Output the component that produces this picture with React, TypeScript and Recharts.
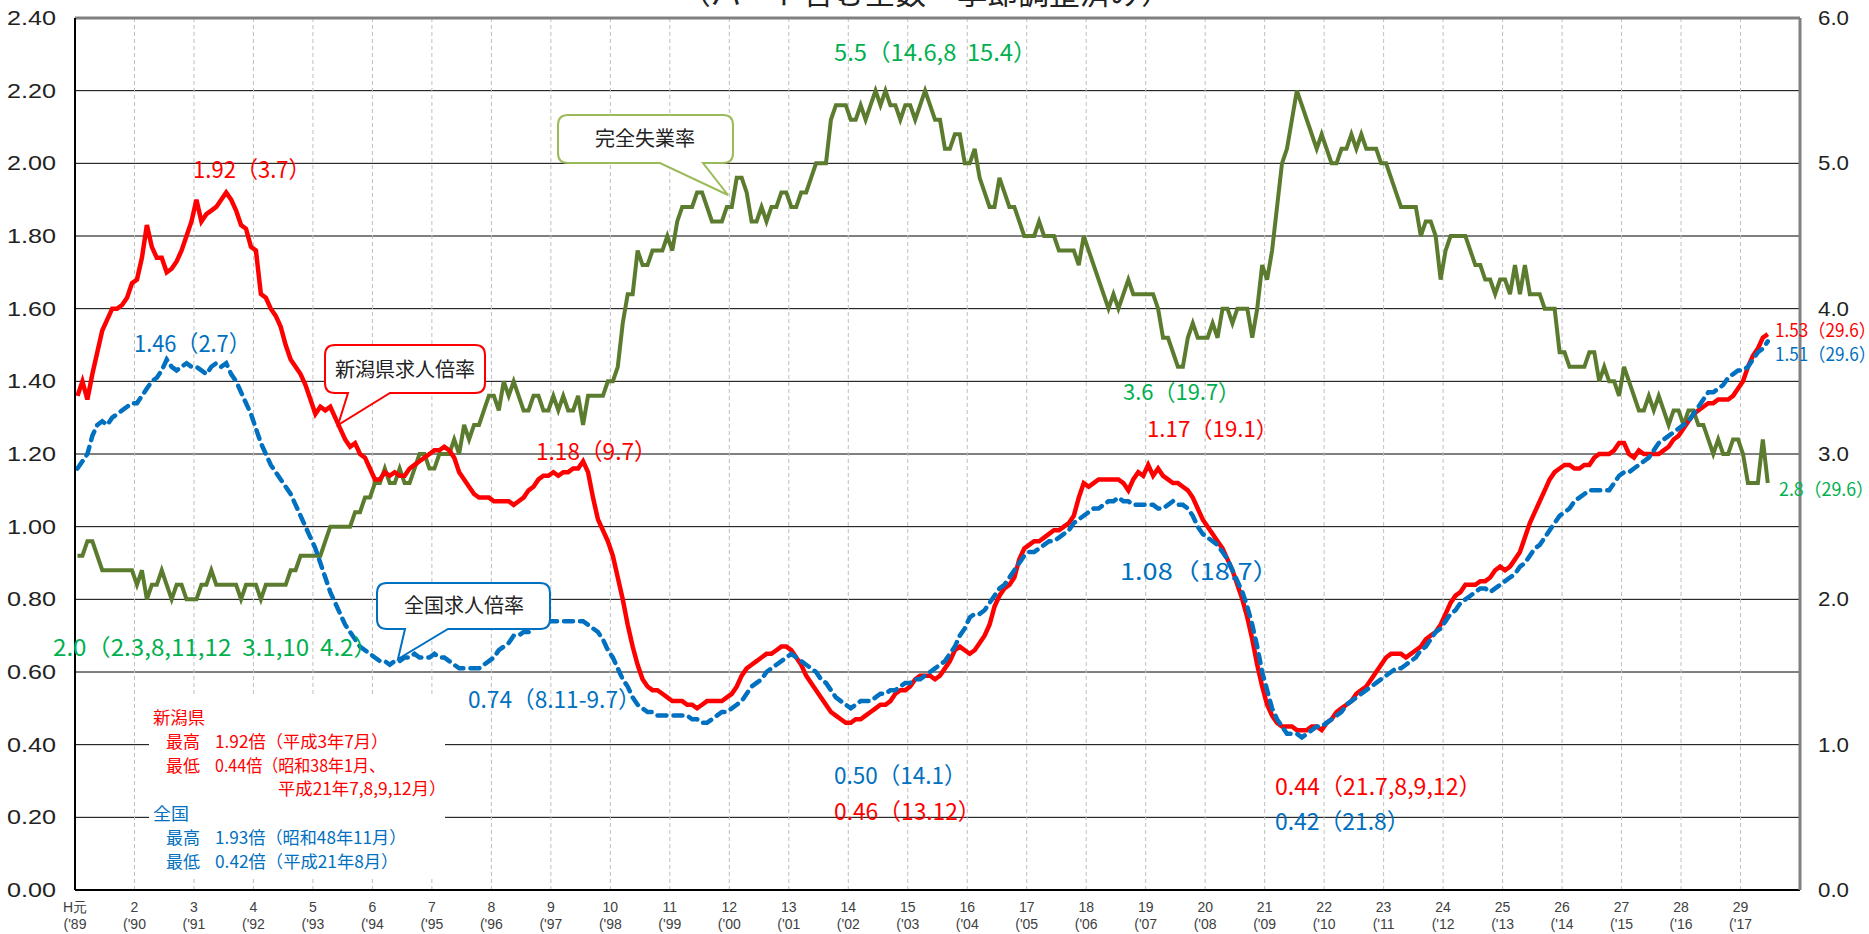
import React from 'react';
import { ComposedChart, Line, XAxis, YAxis, CartesianGrid, ReferenceLine } from 'recharts';

// ---- categories (Jan 1989 .. Dec 2017, monthly) ----
const TOTAL_MONTHS = 348;
const yearLabels = ['H元','2','3','4','5','6','7','8','9','10','11','12','13','14','15','16','17','18','19','20','21','22','23','24','25','26','27','28','29'];
const yearShort = ["('89","('90","('91","('92","('93","('94","('95","('96","('97","('98","('99","('00","('01","('02","('03","('04","('05","('06","('07","('08","('09","('10","('11","('12","('13","('14","('15","('16","('17"];

// ---- 新潟県 有効求人倍率 (monthly, Jan 1989 – Jun 2017) ----
const niigata: number[] = [
  1.36,1.40,1.35,1.42,1.48,1.54,1.57,1.60,1.60,1.61,1.63,1.67,
  1.68,1.74,1.83,1.77,1.74,1.74,1.70,1.71,1.73,1.76,1.80,1.84,
  1.90,1.84,1.86,1.87,1.88,1.90,1.92,1.90,1.87,1.83,1.82,1.77,
  1.76,1.64,1.63,1.60,1.58,1.55,1.50,1.46,1.44,1.42,1.39,1.35,
  1.31,1.33,1.32,1.33,1.30,1.27,1.24,1.22,1.23,1.20,1.19,1.16,
  1.13,1.13,1.15,1.14,1.15,1.14,1.14,1.16,1.17,1.18,1.19,1.20,
  1.21,1.21,1.22,1.21,1.19,1.15,1.13,1.11,1.09,1.08,1.08,1.08,
  1.07,1.07,1.07,1.07,1.06,1.07,1.08,1.10,1.11,1.13,1.14,1.14,
  1.15,1.14,1.15,1.15,1.16,1.16,1.18,1.15,1.08,1.02,0.99,0.96,
  0.92,0.86,0.80,0.73,0.67,0.62,0.58,0.56,0.55,0.55,0.54,0.53,
  0.52,0.52,0.52,0.51,0.51,0.50,0.51,0.52,0.52,0.52,0.52,0.53,
  0.54,0.56,0.59,0.61,0.62,0.63,0.64,0.65,0.65,0.66,0.67,0.67,
  0.66,0.64,0.62,0.59,0.57,0.55,0.53,0.51,0.49,0.48,0.47,0.46,
  0.46,0.47,0.47,0.48,0.49,0.50,0.51,0.51,0.52,0.54,0.55,0.55,
  0.56,0.58,0.59,0.59,0.59,0.58,0.59,0.61,0.63,0.66,0.67,0.66,
  0.65,0.66,0.68,0.70,0.73,0.78,0.81,0.83,0.84,0.86,0.91,0.94,
  0.95,0.96,0.96,0.97,0.98,0.99,0.99,1.00,1.01,1.03,1.08,1.12,
  1.11,1.12,1.13,1.13,1.13,1.13,1.13,1.12,1.10,1.13,1.15,1.14,
  1.17,1.14,1.16,1.14,1.13,1.12,1.12,1.11,1.10,1.08,1.05,1.02,
  1.00,0.98,0.96,0.94,0.91,0.88,0.84,0.80,0.75,0.69,0.62,0.56,
  0.51,0.48,0.46,0.45,0.45,0.45,0.44,0.44,0.44,0.45,0.45,0.44,
  0.46,0.47,0.49,0.50,0.51,0.52,0.54,0.55,0.56,0.58,0.60,0.62,
  0.64,0.65,0.65,0.65,0.64,0.65,0.66,0.67,0.69,0.70,0.71,0.73,
  0.76,0.79,0.81,0.82,0.84,0.84,0.84,0.85,0.85,0.86,0.88,0.89,
  0.88,0.89,0.91,0.93,0.97,1.01,1.04,1.07,1.10,1.13,1.15,1.16,
  1.17,1.17,1.16,1.16,1.17,1.17,1.19,1.20,1.20,1.20,1.21,1.23,
  1.23,1.20,1.19,1.21,1.20,1.20,1.20,1.20,1.21,1.22,1.24,1.25,
  1.27,1.29,1.31,1.32,1.33,1.34,1.34,1.35,1.35,1.35,1.36,1.38,
  1.40,1.44,1.47,1.49,1.52,1.53,
];

// ---- 全国 有効求人倍率 ----
const national: number[] = [
  1.16,1.18,1.20,1.25,1.28,1.29,1.28,1.30,1.31,1.32,1.33,1.34,
  1.34,1.36,1.38,1.40,1.41,1.43,1.46,1.44,1.43,1.44,1.45,1.44,
  1.44,1.43,1.42,1.44,1.45,1.44,1.45,1.42,1.40,1.37,1.34,1.31,
  1.27,1.23,1.20,1.17,1.15,1.13,1.11,1.09,1.06,1.03,1.00,0.97,
  0.94,0.90,0.86,0.82,0.79,0.76,0.73,0.71,0.69,0.67,0.66,0.65,
  0.64,0.63,0.63,0.62,0.63,0.63,0.64,0.64,0.65,0.64,0.64,0.64,
  0.65,0.64,0.64,0.63,0.62,0.61,0.61,0.61,0.61,0.61,0.62,0.63,
  0.64,0.66,0.67,0.68,0.70,0.70,0.71,0.71,0.72,0.73,0.74,0.74,
  0.74,0.74,0.74,0.74,0.74,0.74,0.74,0.73,0.72,0.71,0.69,0.66,
  0.64,0.61,0.58,0.56,0.53,0.51,0.50,0.49,0.49,0.48,0.48,0.48,
  0.48,0.48,0.48,0.48,0.47,0.47,0.46,0.46,0.47,0.48,0.49,0.49,
  0.50,0.51,0.52,0.54,0.56,0.57,0.58,0.60,0.61,0.62,0.63,0.64,
  0.65,0.64,0.63,0.62,0.61,0.60,0.58,0.57,0.55,0.53,0.52,0.51,
  0.50,0.51,0.52,0.52,0.52,0.53,0.54,0.54,0.55,0.55,0.56,0.57,
  0.57,0.58,0.58,0.59,0.60,0.61,0.62,0.63,0.65,0.67,0.70,0.72,
  0.75,0.76,0.76,0.77,0.79,0.81,0.83,0.84,0.86,0.88,0.90,0.92,
  0.93,0.93,0.94,0.95,0.96,0.96,0.97,0.98,0.99,1.01,1.02,1.03,
  1.04,1.05,1.05,1.06,1.07,1.07,1.08,1.07,1.07,1.06,1.06,1.06,
  1.06,1.06,1.05,1.05,1.06,1.07,1.06,1.06,1.05,1.03,1.00,0.98,
  0.97,0.96,0.95,0.93,0.91,0.88,0.85,0.82,0.78,0.73,0.67,0.60,
  0.55,0.50,0.47,0.45,0.43,0.43,0.43,0.42,0.43,0.44,0.45,0.45,
  0.46,0.47,0.48,0.49,0.51,0.52,0.53,0.54,0.55,0.56,0.57,0.58,
  0.59,0.60,0.61,0.61,0.62,0.63,0.64,0.66,0.67,0.69,0.71,0.72,
  0.74,0.76,0.77,0.79,0.80,0.81,0.82,0.83,0.83,0.82,0.83,0.84,
  0.85,0.86,0.87,0.89,0.90,0.92,0.94,0.95,0.97,0.99,1.01,1.03,
  1.04,1.05,1.07,1.08,1.09,1.10,1.10,1.10,1.10,1.10,1.12,1.14,
  1.15,1.15,1.16,1.17,1.18,1.19,1.21,1.23,1.24,1.25,1.26,1.27,
  1.28,1.29,1.31,1.33,1.35,1.37,1.37,1.38,1.39,1.41,1.42,1.43,
  1.43,1.44,1.46,1.48,1.49,1.51,
];

// ---- 完全失業率 (%) ----
const unemployment: number[] = [
  2.3,2.3,2.4,2.4,2.3,2.2,2.2,2.2,2.2,2.2,2.2,2.2,
  2.1,2.2,2.0,2.1,2.1,2.2,2.1,2.0,2.1,2.1,2.0,2.0,
  2.0,2.1,2.1,2.2,2.1,2.1,2.1,2.1,2.1,2.0,2.1,2.1,
  2.1,2.0,2.1,2.1,2.1,2.1,2.1,2.2,2.2,2.3,2.3,2.3,
  2.3,2.3,2.4,2.5,2.5,2.5,2.5,2.5,2.6,2.6,2.7,2.7,
  2.8,2.8,2.9,2.8,2.8,2.9,2.8,2.8,2.9,3.0,3.0,2.9,
  2.9,3.0,3.0,3.0,3.1,3.0,3.2,3.1,3.2,3.2,3.3,3.4,
  3.4,3.3,3.5,3.4,3.5,3.4,3.3,3.3,3.4,3.4,3.3,3.3,
  3.4,3.3,3.4,3.3,3.3,3.4,3.2,3.4,3.4,3.4,3.4,3.5,
  3.5,3.6,3.9,4.1,4.1,4.4,4.3,4.3,4.4,4.4,4.4,4.5,
  4.4,4.6,4.7,4.7,4.7,4.8,4.8,4.7,4.6,4.6,4.6,4.7,
  4.7,4.9,4.9,4.8,4.6,4.6,4.7,4.6,4.7,4.7,4.8,4.8,
  4.7,4.7,4.8,4.8,4.9,5.0,5.0,5.0,5.3,5.4,5.4,5.4,
  5.3,5.3,5.4,5.3,5.4,5.5,5.4,5.5,5.4,5.4,5.3,5.4,
  5.4,5.3,5.4,5.5,5.4,5.3,5.3,5.1,5.1,5.2,5.2,5.0,
  5.0,5.1,4.9,4.8,4.7,4.7,4.9,4.8,4.7,4.7,4.6,4.5,
  4.5,4.5,4.6,4.5,4.5,4.5,4.4,4.4,4.4,4.4,4.3,4.5,
  4.4,4.3,4.2,4.1,4.0,4.1,4.0,4.1,4.2,4.1,4.1,4.1,
  4.1,4.1,4.0,3.8,3.8,3.7,3.6,3.6,3.8,3.9,3.8,3.8,
  3.8,3.9,3.8,4.0,4.0,3.9,4.0,4.0,4.0,3.8,4.0,4.3,
  4.2,4.4,4.7,5.0,5.1,5.3,5.5,5.4,5.3,5.2,5.1,5.2,
  5.1,5.0,5.0,5.1,5.1,5.2,5.1,5.2,5.1,5.1,5.1,5.0,
  5.0,4.9,4.8,4.7,4.7,4.7,4.7,4.5,4.6,4.6,4.5,4.2,
  4.4,4.5,4.5,4.5,4.5,4.4,4.3,4.3,4.2,4.2,4.1,4.2,
  4.2,4.1,4.3,4.1,4.3,4.1,4.1,4.1,4.0,4.0,4.0,3.7,
  3.7,3.6,3.6,3.6,3.6,3.7,3.7,3.5,3.6,3.5,3.5,3.4,
  3.6,3.5,3.4,3.3,3.3,3.4,3.3,3.4,3.3,3.2,3.3,3.3,
  3.2,3.3,3.3,3.2,3.2,3.1,3.0,3.1,3.0,3.0,3.1,3.1,
  3.0,2.8,2.8,2.8,3.1,2.8,
];

const leftTicks = [0, 0.2, 0.4, 0.6, 0.8, 1.0, 1.2, 1.4, 1.6, 1.8, 2.0, 2.2, 2.4];
const rightTicks = [0, 1, 2, 3, 4, 5, 6];
const yearTicks = yearLabels.map((_, k) => k * 12);

const data = Array.from({ length: TOTAL_MONTHS }, (_, i) => ({
  m: i,
  niigata: i < niigata.length ? niigata[i] : null,
  national: i < national.length ? national[i] : null,
  unemployment: i < unemployment.length ? unemployment[i] : null,
}));

const W = 1869;
const H = 934;
const PLOT_LEFT = 75;
const PLOT_RIGHT = 1800;
const PLOT_TOP = 18;
const PLOT_BOTTOM = 890;
const BAND = (PLOT_RIGHT - PLOT_LEFT) / TOTAL_MONTHS;

const RED = '#FF0000';
const BLUE = '#0070C0';
const OLIVE = '#5B7B2E';
const GREEN_TXT = '#00B050';
const JP = '"Noto Sans CJK JP", "Noto Sans", sans-serif';
const AXISFONT = '"Liberation Sans", "DejaVu Sans", sans-serif';

const XTick = (props: any) => {
  const { x, y, payload } = props;
  const k = Math.round(payload.value / 12);
  const cx = x - BAND / 2;
  return (
    <g>
      <text x={cx} y={y + 14} textAnchor="middle" fontSize={14} fontFamily={AXISFONT} fill="#404040">
        {yearLabels[k]}
      </text>
      <text x={cx} y={y + 31} textAnchor="middle" fontSize={14} fontFamily={AXISFONT} fill="#404040">
        {yearShort[k]}
      </text>
      <text x={cx} y={y + 47} textAnchor="middle" fontSize={14} fontFamily={AXISFONT} fill="#404040">
        )
      </text>
    </g>
  );
};

const LeftTick = (props: any) => {
  const { x, y, payload } = props;
  return (
    <text x={x} y={y + 7} textAnchor="end" fontSize={21} fontFamily={AXISFONT} fill="#222"
      textLength={49} lengthAdjust="spacingAndGlyphs">
      {Number(payload.value).toFixed(2)}
    </text>
  );
};

const RightTick = (props: any) => {
  const { x, y, payload } = props;
  return (
    <text x={x} y={y + 7} textAnchor="start" fontSize={21} fontFamily={AXISFONT} fill="#222"
      textLength={31} lengthAdjust="spacingAndGlyphs">
      {Number(payload.value).toFixed(1)}
    </text>
  );
};

function calloutPath(x0: number, y0: number, x1: number, y1: number, r: number, pa: number, pb: number, tx: number, ty: number) {
  return `M${x0 + r},${y0} H${x1 - r} Q${x1},${y0} ${x1},${y0 + r} V${y1 - r} Q${x1},${y1} ${x1 - r},${y1} H${pb} L${tx},${ty} L${pa},${y1} H${x0 + r} Q${x0},${y1} ${x0},${y1 - r} V${y0 + r} Q${x0},${y0} ${x0 + r},${y0} Z`;
}

// visible ink width -> advance width (fullwidth ')' has empty right half)
const adv = (t: string, w: number, fs: number) => (t.endsWith('）') ? w + fs * 0.55 : w);

type Ann = { t: string; x: number; y: number; w: number; c: string; fs: number };
const annotations: Ann[] = [
  { t: '1.92（3.7）', x: 193, y: 170, w: 105, c: RED, fs: 23 },
  { t: '1.46（2.7）', x: 134, y: 344, w: 104, c: BLUE, fs: 23 },
  { t: '2.0（2.3,8,11,12  3.1,10  4.2）', x: 53, y: 648, w: 312, c: GREEN_TXT, fs: 23 },
  { t: '0.74（8.11-9.7）', x: 468, y: 700, w: 160, c: BLUE, fs: 23 },
  { t: '1.18（9.7）', x: 536, y: 452, w: 108, c: RED, fs: 23 },
  { t: '5.5（14.6,8  15.4）', x: 834, y: 53, w: 190, c: GREEN_TXT, fs: 23 },
  { t: '3.6（19.7）', x: 1123, y: 392, w: 105, c: GREEN_TXT, fs: 22 },
  { t: '1.17（19.1）', x: 1147, y: 429, w: 119, c: RED, fs: 22 },
  { t: '1.08（18.7）', x: 1120, y: 572, w: 147, c: BLUE, fs: 23 },
  { t: '0.50（14.1）', x: 834, y: 776, w: 120, c: BLUE, fs: 23 },
  { t: '0.46（13.12）', x: 834, y: 812, w: 134, c: RED, fs: 23 },
  { t: '0.44（21.7,8,9,12）', x: 1275, y: 787, w: 194, c: RED, fs: 23 },
  { t: '0.42（21.8）', x: 1275, y: 822, w: 122, c: BLUE, fs: 23 },
  { t: '1.53（29.6）', x: 1775, y: 331, w: 91, c: RED, fs: 18 },
  { t: '1.51（29.6）', x: 1775, y: 355, w: 91, c: BLUE, fs: 18 },
  { t: '2.8（29.6）', x: 1779, y: 490, w: 85, c: GREEN_TXT, fs: 18 },
];

type NoteLine = { head?: string; t: string; x: number; y: number; w: number; c: string };
const notes: NoteLine[] = [
  { t: '新潟県', x: 153, y: 718, w: 52, c: RED },
  { head: '最高', t: '1.92倍（平成3年7月）', x: 215, y: 742, w: 164, c: RED },
  { head: '最低', t: '0.44倍（昭和38年1月、', x: 215, y: 766, w: 170, c: RED },
  { t: '平成21年7,8,9,12月）', x: 278, y: 789, w: 159, c: RED },
  { t: '全国', x: 153, y: 814, w: 36, c: BLUE },
  { head: '最高', t: '1.93倍（昭和48年11月）', x: 215, y: 838, w: 182, c: BLUE },
  { head: '最低', t: '0.42倍（平成21年8月）', x: 215, y: 862, w: 174, c: BLUE },
];

export default function App() {
  return (
    <div style={{ position: 'absolute', left: 0, top: 0, width: W, height: H, overflow: 'hidden', background: '#fff' }}>
      <ComposedChart
        width={W}
        height={H}
        data={data}
        margin={{ top: PLOT_TOP, right: 0, bottom: 0, left: 0 }}
      >
        <CartesianGrid
          yAxisId="left"
          vertical={false}
          stroke="#000"
          strokeWidth={1}
        />
        <CartesianGrid
          yAxisId="left"
          horizontal={false}
          stroke="#BFBFBF"
          strokeDasharray="4 3"
          verticalCoordinatesGenerator={({ offset }: any) =>
            yearTicks.slice(1).map((t) => offset.left + (t * offset.width) / TOTAL_MONTHS)
          }
        />
        <XAxis
          dataKey="m"
          type="category"
          scale="band"
          ticks={yearTicks}
          interval={0}
          tick={<XTick />}
          tickLine={false}
          axisLine={{ stroke: '#000', strokeWidth: 2 }}
          height={H - PLOT_BOTTOM}
        />
        <YAxis
          yAxisId="left"
          orientation="left"
          domain={[0, 2.4]}
          ticks={leftTicks}
          interval={0}
          width={PLOT_LEFT}
          tick={<LeftTick />}
          tickLine={false}
          tickSize={0}
          tickMargin={19}
          axisLine={{ stroke: '#000', strokeWidth: 2 }}
        />
        <YAxis
          yAxisId="right"
          orientation="right"
          domain={[0, 6]}
          ticks={rightTicks}
          interval={0}
          width={W - PLOT_RIGHT}
          tick={<RightTick />}
          tickLine={false}
          tickSize={0}
          tickMargin={18}
          axisLine={{ stroke: '#808080', strokeWidth: 3 }}
        />
        <ReferenceLine yAxisId="left" y={2.4} stroke="#808080" strokeWidth={3} />
        <Line
          yAxisId="right"
          dataKey="unemployment"
          type="linear"
          stroke={OLIVE}
          strokeWidth={4}
          dot={false}
          activeDot={false}
          isAnimationActive={false}
        />
        <Line
          yAxisId="left"
          dataKey="niigata"
          type="linear"
          stroke={RED}
          strokeWidth={4.5}
          dot={false}
          activeDot={false}
          isAnimationActive={false}
        />
        <Line
          yAxisId="left"
          dataKey="national"
          type="linear"
          stroke={BLUE}
          strokeWidth={4.5}
          strokeDasharray="9 7"
          strokeLinecap="round"
          dot={false}
          activeDot={false}
          isAnimationActive={false}
        />
      </ComposedChart>

      <svg
        width={W}
        height={H}
        style={{ position: 'absolute', left: 0, top: 0, pointerEvents: 'none' }}
      >
        {/* title (cut off at top) */}
        <text x={680} y={4} fontSize={30} fontFamily={JP} fill="#222" textLength={492} lengthAdjust="spacingAndGlyphs">
          （パート含む全数・季節調整済み）
        </text>

        {/* legend note box */}
        <rect x={149} y={697} width={296} height={182} fill="#fff" />
        {notes.map((n, i) => (
          <g key={'n' + i}>
            {n.head && (
              <text x={166} y={n.y + 6} fontSize={17} fontFamily={JP} fill={n.c}>
                {n.head}
              </text>
            )}
            <text x={n.x} y={n.y + 6} fontSize={17} fontFamily={JP} fill={n.c}
              textLength={adv(n.t, n.w, 17)} lengthAdjust="spacingAndGlyphs">
              {n.t}
            </text>
          </g>
        ))}

        {/* callouts */}
        <path d={calloutPath(558, 115, 733, 163, 10, 660, 703, 728, 195)} fill="#fff" stroke="#9BBB59" strokeWidth={2} />
        <text x={645} y={146} textAnchor="middle" fontSize={20} fontFamily={JP} fill="#222">完全失業率</text>

        <path d={calloutPath(325, 345, 485, 393, 10, 348, 390, 338, 425)} fill="#fff" stroke={RED} strokeWidth={2} />
        <text x={405} y={377} textAnchor="middle" fontSize={20} fontFamily={JP} fill="#222">新潟県求人倍率</text>

        <path d={calloutPath(377, 583, 550, 629, 10, 405, 448, 398, 659)} fill="#fff" stroke={BLUE} strokeWidth={2} />
        <text x={464} y={613} textAnchor="middle" fontSize={20} fontFamily={JP} fill="#222">全国求人倍率</text>

        {/* value annotations */}
        {annotations.map((a, i) => (
          <text
            key={'a' + i}
            x={a.x}
            y={a.y + a.fs * 0.36}
            fontSize={a.fs}
            fontFamily={JP}
            fill={a.c}
            textLength={adv(a.t, a.w, a.fs)}
            lengthAdjust="spacingAndGlyphs"
            style={{ whiteSpace: 'pre' }}
          >
            {a.t}
          </text>
        ))}
      </svg>
    </div>
  );
}
